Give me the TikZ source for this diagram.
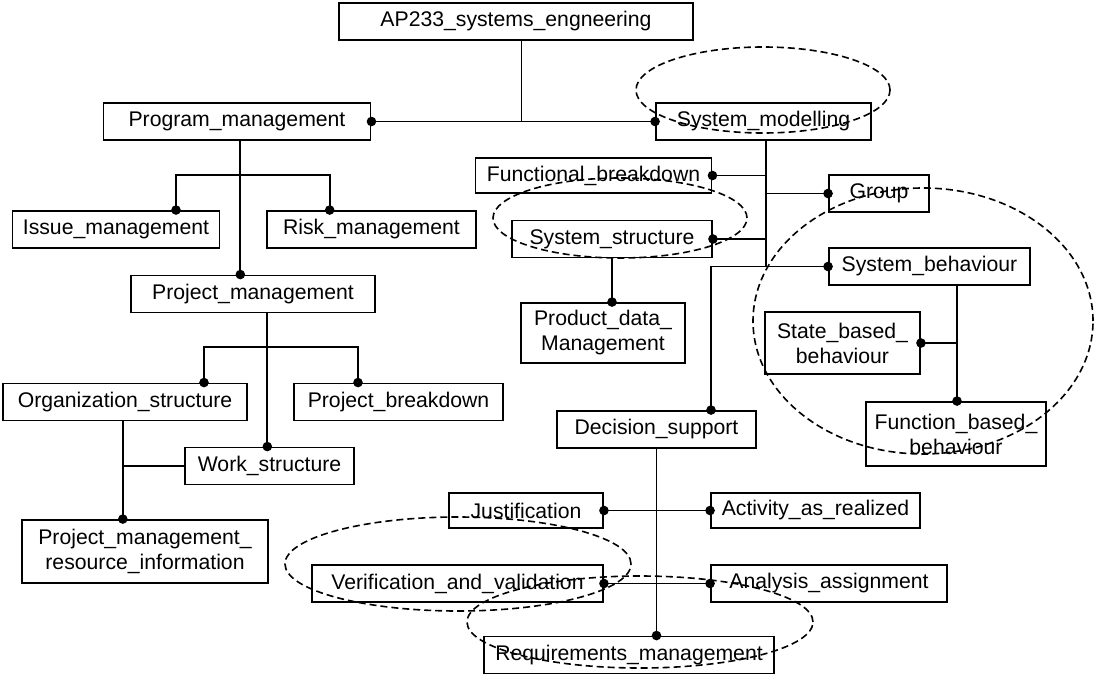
\documentclass[tikz,border=0pt]{standalone}
\usepackage{fontspec}
\setmainfont{Liberation Sans}
\begin{document}
\begin{tikzpicture}[x=0.5pt,y=-0.5pt,
  blk/.style={draw, line width=0.95pt, inner sep=0pt, minimum height=18.5pt,
    font=\fontsize{10.6}{12.5}\selectfont, align=center},
  link/.style={line width=0.95pt},
  ring/.style={line width=0.8pt, dash pattern=on 3.5pt off 2pt}]

  \useasboundingbox (0,0) rectangle (1096,674);

  \node[blk, minimum width=177pt] (ap) at (516,21.5) {AP233\_systems\_engneering};
  \node[blk, minimum width=133.5pt] (pgm) at (237,121.5) {Program\_management};
  \node[blk, minimum width=107.5pt] (sysmod) at (763.5,121.5) {System\_modelling};
  \node[blk, minimum width=118pt, minimum height=17.5pt] (funcbd) at (593.5,175.5) {Functional\_breakdown};
  \node[blk, minimum width=50pt] (group) at (879,193.5) {Group};
  \node[blk, minimum width=103.5pt] (issue) at (116,229.5) {Issue\_management};
  \node[blk, minimum width=104.5pt] (risk) at (371.5,229.5) {Risk\_management};
  \node[blk, minimum width=100pt] (sysstr) at (612,239) {System\_structure};
  \node[blk, minimum width=122pt] (prjm) at (253,294) {Project\_management};
  \node[blk, minimum width=100.5pt] (sysbeh) at (929.5,266.5) {System\_behaviour};
  \node[blk, minimum width=82pt, minimum height=30pt] (pdm) at (603,333) {Product\_data\_\\Management};
  \node[blk, minimum width=77.5pt, minimum height=31pt] (state) at (842.5,343) {State\_based\_\\behaviour};
  \node[blk, minimum width=122pt] (org) at (125,402) {Organization\_structure};
  \node[blk, minimum width=104.5pt] (prjbd) at (398.5,402) {Project\_breakdown};
  \node[blk, minimum width=99.5pt] (decsup) at (656.5,429.5) {Decision\_support};
  \node[blk, minimum width=90pt, minimum height=32pt] (funcbeh) at (956,434) {Function\_based\_\\behaviour};
  \node[blk, minimum width=84.5pt] (work) at (269.5,466) {Work\_structure};
  \node[blk, minimum width=77pt, minimum height=17.5pt] (just) at (526,510.5) {Justification};
  \node[blk, minimum width=104.5pt, minimum height=17.5pt] (act) at (815.5,510.5) {Activity\_as\_realized};
  \node[blk, minimum width=123pt, minimum height=31.5pt] (pmri) at (145,551.5) {Project\_management\_\\resource\_information};
  \node[blk, minimum width=145.5pt] (verif) at (457.5,583.5) {Verification\_and\_validation};
  \node[blk, minimum width=118pt] (anal) at (829,583.5) {Analysis\_assignment};
  \node[blk, minimum width=145pt] (req) at (629,655) {Requirements\_management};

  \coordinate (apdn) at ([xshift=2.75pt]ap.south);
  \coordinate (pgdn) at ([xshift=1.65pt]pgm.south);
  \coordinate (pmdn) at ([xshift=7.15pt]prjm.south);
  \coordinate (ogdn) at ([xshift=-1.1pt]org.south);
  \coordinate (smdn) at ([xshift=1.25pt]sysmod.south);
  \coordinate (sbdn) at ([xshift=13.75pt]sysbeh.south);
  \coordinate (issuetop) at ([xshift=30pt]issue.north);
  \coordinate (risktop) at ([xshift=-20.9pt]risk.north);
  \coordinate (orgtop) at ([xshift=39.5pt]org.north);
  \coordinate (pbtop) at ([xshift=-20.25pt]prjbd.north);
  \coordinate (dstop) at ([xshift=27.25pt]decsup.north);

  \draw[link] (apdn) -- (apdn |- pgm.east);
  \draw[link] (pgm.east) -- (sysmod.west);
  \draw[link] (pgdn) -- (pgdn |- prjm.north);
  \draw[link] (issuetop) -- ++(0,-35) -| (risktop);
  \draw[link] (pmdn) -- (pmdn |- work.north);
  \draw[link] (orgtop) -- ++(0,-36) -| (pbtop);
  \draw[link] (ogdn) -- (ogdn |- pmri.north);
  \draw[link] (work.west) -- (work.west -| ogdn);
  \draw[link] (smdn) -- (smdn |- sysbeh.west);
  \draw[link] (funcbd.east) -- (funcbd.east -| smdn);
  \draw[link] (group.west) -- (group.west -| smdn);
  \draw[link] (sysstr.east) -- (sysstr.east -| smdn);
  \draw[link] (sysbeh.west) -| (dstop);
  \draw[link] (sysstr.south) -- (sysstr.south |- pdm.north);
  \draw[link] (sbdn) -- (sbdn |- funcbeh.north);
  \draw[link] (state.east) -- (state.east -| sbdn);
  \draw[link] (decsup.south) -- (decsup.south |- req.north);
  \draw[link] (just.east) -- (act.west);
  \draw[link] (verif.east) -- (anal.west);

  \fill (pgm.east) circle (2.4pt);
  \fill (sysmod.west) circle (2.4pt);
  \fill (pgdn |- prjm.north) circle (2.4pt);
  \fill (issuetop) circle (2.4pt);
  \fill (risktop) circle (2.4pt);
  \fill (pmdn |- work.north) circle (2.4pt);
  \fill (orgtop) circle (2.4pt);
  \fill (pbtop) circle (2.4pt);
  \fill (ogdn |- pmri.north) circle (2.4pt);
  \fill (funcbd.east) circle (2.4pt);
  \fill (group.west) circle (2.4pt);
  \fill (sysstr.east) circle (2.4pt);
  \fill (sysbeh.west) circle (2.4pt);
  \fill (dstop) circle (2.4pt);
  \fill (sysstr.south |- pdm.north) circle (2.4pt);
  \fill (sbdn |- funcbeh.north) circle (2.4pt);
  \fill (state.east) circle (2.4pt);
  \fill (decsup.south |- req.north) circle (2.4pt);
  \fill (just.east) circle (2.4pt);
  \fill (act.west) circle (2.4pt);
  \fill (verif.east) circle (2.4pt);
  \fill (anal.west) circle (2.4pt);

  \draw[ring] (763,90) ellipse [x radius=63.5pt, y radius=21.5pt];
  \draw[ring] (620,218) ellipse [x radius=63.5pt, y radius=20pt];
  \draw[ring] (923,321) ellipse [x radius=85pt, y radius=66.5pt];
  \draw[ring] (458,564) ellipse [x radius=86.5pt, y radius=23.5pt];
  \draw[ring] (640,622) ellipse [x radius=86.5pt, y radius=23pt];

\end{tikzpicture}
\end{document}
